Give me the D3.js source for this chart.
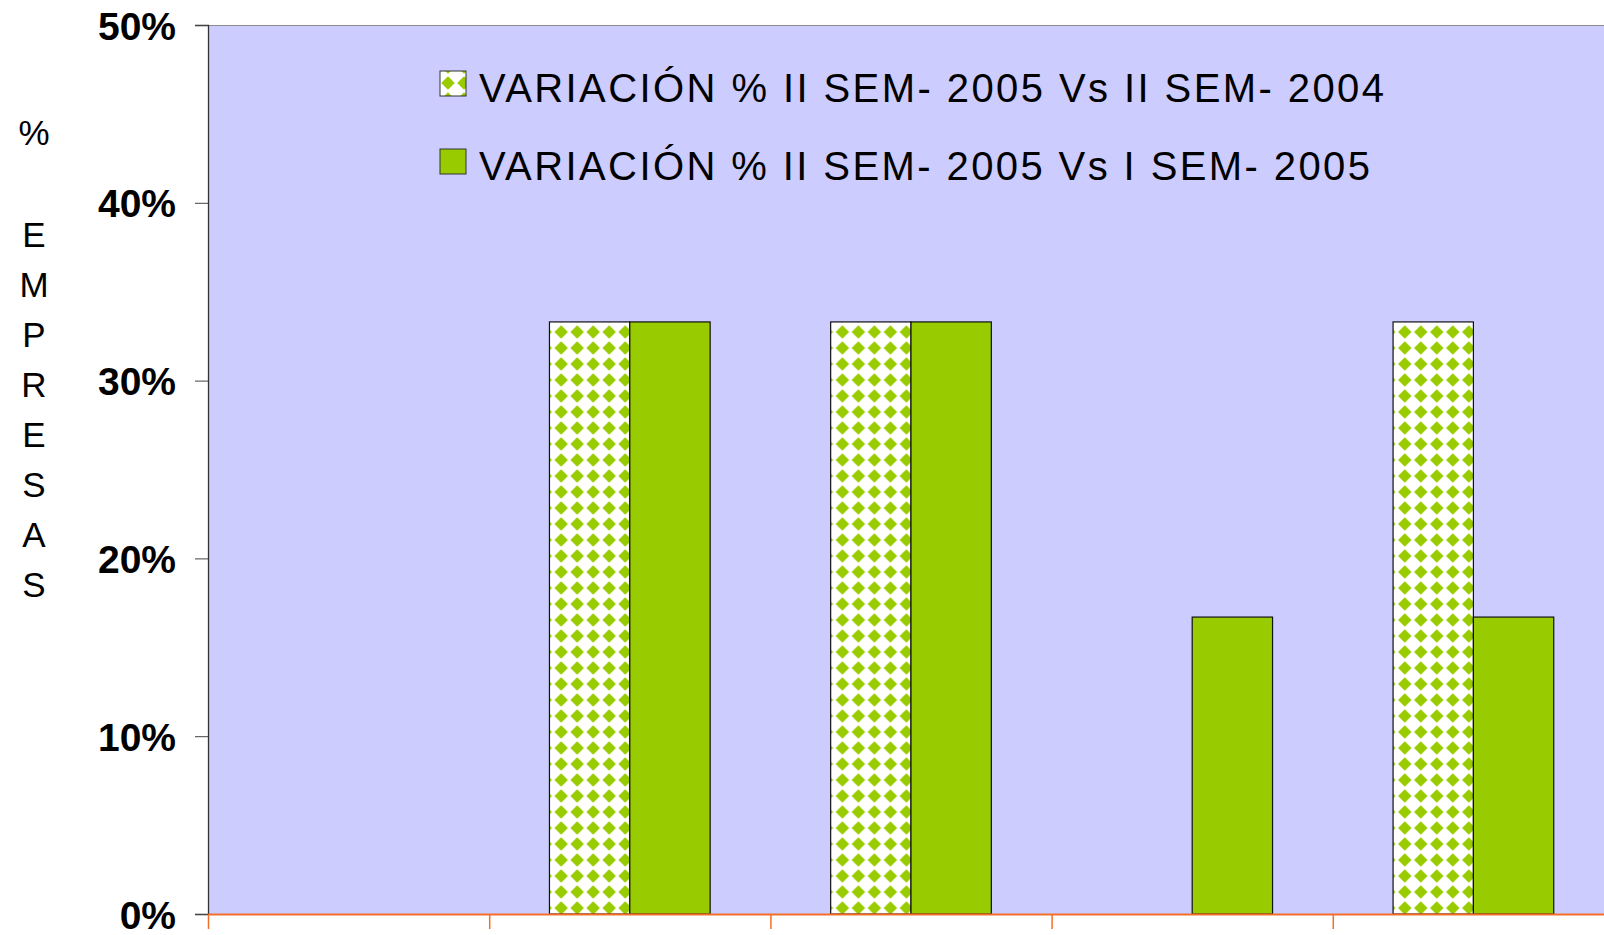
<!DOCTYPE html>
<html lang="es">
<head>
<meta charset="utf-8">
<title>Variación % empresas</title>
<script src="https://cdn.jsdelivr.net/npm/d3@7.8.5/dist/d3.min.js"></script>
<style>
  html, body { margin: 0; padding: 0; background: #fff; overflow: hidden; }
  svg { display: block; font-family: "Liberation Sans", Arial, sans-serif; }
</style>
</head>
<body>
<div id="chart"></div>
<script>
// ── Data ────────────────────────────────────────────────────────────────────
const CATEGORIES = ["A", "B", "C", "D", "E"]; // no labels shown on the axis
const SERIES = [
  "VARIACIÓN % II SEM- 2005 Vs II SEM- 2004",
  "VARIACIÓN % II SEM- 2005 Vs I SEM- 2005",
];
const VS_II_SEM_2004 = [0, 0.333, 0.333, 0, 0.333];
const VS_I_SEM_2005 = [0, 0.333, 0.333, 0.167, 0.167];
const Y_TICKS = [0, 0.1, 0.2, 0.3, 0.4, 0.5];
const Y_TITLE = ["%", "E", "M", "P", "R", "E", "S", "A", "S"];

// ── Layout ──────────────────────────────────────────────────────────────────
const W = 1604;
const H = 935;
const PLOT_L = 208;
const PLOT_R = 1614; // plot runs past the right edge of the picture
const PLOT_T = 25;
const PLOT_B = 914;
const GREEN = "#99cc00";
const PLOT_BG = "#ccccff";
const ORANGE = "#f26f2b";

const rows = CATEGORIES.map((c, i) => ({
  cat: c,
  values: [VS_II_SEM_2004[i], VS_I_SEM_2005[i]],
}));

const svg = d3
  .select("#chart")
  .append("svg")
  .attr("width", W)
  .attr("height", H);

// solid-diamond pattern for the first series (one diamond per cell)
const defs = svg.append("defs");
const P = 16;
const pat = defs
  .append("pattern")
  .attr("id", "diamonds")
  .attr("patternUnits", "userSpaceOnUse")
  .attr("x", 0)
  .attr("y", 4)
  .attr("width", P)
  .attr("height", P);
pat.append("rect").attr("width", P).attr("height", P).attr("fill", "#fff");
const c = P / 2;
const r = P * 0.42;
pat
  .append("path")
  .attr("d", `M${c},${c - r}L${c + r},${c}L${c},${c + r}L${c - r},${c}Z`)
  .attr("fill", GREEN);

const FILLS = ["url(#diamonds)", GREEN];

// ── Scales ──────────────────────────────────────────────────────────────────
const x0 = d3.scaleBand().domain(CATEGORIES).range([PLOT_L, PLOT_R]).padding(0);
const x1 = d3
  .scaleBand()
  .domain(d3.range(SERIES.length))
  .range([0, x0.bandwidth()])
  .paddingInner(0)
  .paddingOuter(0.75);
const y = d3.scaleLinear().domain([0, 0.5]).range([PLOT_B, PLOT_T]);
const xEdges = d3
  .scaleLinear()
  .domain([0, CATEGORIES.length])
  .range([PLOT_L, PLOT_R]);

// plot area
svg
  .append("rect")
  .attr("x", PLOT_L)
  .attr("y", PLOT_T)
  .attr("width", PLOT_R - PLOT_L)
  .attr("height", PLOT_B - PLOT_T)
  .attr("fill", PLOT_BG);
svg
  .append("line")
  .attr("x1", PLOT_L)
  .attr("x2", PLOT_R)
  .attr("y1", PLOT_T + 0.5)
  .attr("y2", PLOT_T + 0.5)
  .attr("stroke", "#8c8c8c");

// ── Bars ────────────────────────────────────────────────────────────────────
const groups = svg
  .append("g")
  .selectAll("g")
  .data(rows)
  .join("g")
  .attr("transform", (d) => `translate(${x0(d.cat)},0)`);

groups
  .selectAll("rect")
  .data((d) => d.values.map((v, k) => ({ k, v })).filter((e) => e.v > 0))
  .join("rect")
  .attr("x", (e) => x1(e.k))
  .attr("y", (e) => y(e.v))
  .attr("width", x1.bandwidth())
  .attr("height", (e) => y(0) - y(e.v))
  .attr("fill", (e) => FILLS[e.k])
  .attr("stroke", "#111")
  .attr("stroke-width", 1.2);

// ── Axes ────────────────────────────────────────────────────────────────────
const yAxis = svg
  .append("g")
  .attr("transform", `translate(${PLOT_L},0)`)
  .call(
    d3
      .axisLeft(y)
      .tickValues(Y_TICKS)
      .tickFormat(d3.format(".0%"))
      .tickSize(13)
      .tickPadding(19)
  );
yAxis.select(".domain").attr("stroke", "#333").attr("stroke-width", 1.3);
yAxis.selectAll(".tick line").attr("stroke", "#444");
yAxis
  .selectAll(".tick text")
  .attr("fill", "#000")
  .attr("dy", "0.36em")
  .style("font-size", "39px")
  .style("font-weight", "700")
  .style("font-family", '"Liberation Sans", Arial, sans-serif');

const xAxis = svg
  .append("g")
  .attr("transform", `translate(0,${PLOT_B})`)
  .call(
    d3
      .axisBottom(xEdges)
      .tickValues(d3.range(CATEGORIES.length + 1))
      .tickFormat("")
      .tickSize(15)
      .tickSizeOuter(0)
  );
xAxis.select(".domain").attr("stroke", ORANGE).attr("stroke-width", 2);
xAxis.selectAll(".tick line").attr("stroke", ORANGE).attr("stroke-width", 1.5);

// y title, stacked letters
svg
  .append("g")
  .selectAll("text")
  .data(Y_TITLE)
  .join("text")
  .attr("x", 34)
  .attr("y", (d, i) => (i === 0 ? 145 : 247 + (i - 1) * 50))
  .attr("text-anchor", "middle")
  .style("font-size", "35px")
  .attr("fill", "#000")
  .text((d) => d);

// ── Legend ──────────────────────────────────────────────────────────────────
const LEGEND_W = [905, 891];
const legend = svg
  .append("g")
  .selectAll("g")
  .data(SERIES)
  .join("g")
  .attr("transform", (d, i) => `translate(440,${71 + i * 78})`);

legend
  .append("rect")
  .attr("width", 26)
  .attr("height", 25)
  .attr("fill", (d, i) => FILLS[i])
  .attr("stroke", "#333")
  .attr("stroke-width", 1);

legend
  .append("text")
  .attr("x", 39)
  .attr("y", 31)
  .attr("textLength", (d, i) => LEGEND_W[i])
  .attr("lengthAdjust", "spacing")
  .style("font-size", "40px")
  .attr("fill", "#000")
  .text((d) => d);
</script>
</body>
</html>
